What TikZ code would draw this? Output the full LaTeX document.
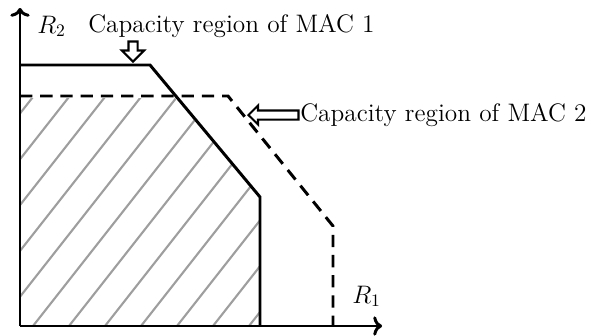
\documentclass[tikz,border=0pt]{standalone}
\usetikzlibrary{arrows.meta}
\usetikzlibrary{shapes.arrows}

\begin{document}
\begin{tikzpicture}[x=0.02cm,y=-0.02cm,
  thick line/.style={line width=1.7pt},
  axis/.style={line width=1.7pt, -{To[length=5pt,width=11pt]}},
  hatch/.style={line width=1.2pt, black!38},
  callout/.style={single arrow, draw, fill=white, line width=1.2pt, inner sep=0.07cm},
  label text/.style={font=\Large, inner sep=0pt, anchor=base west}]
\useasboundingbox (0,0) rectangle (595,335);

\coordinate (o) at (20,326);

\begin{scope}
\clip (20,326) -- (20,98) -- (175,98) -- (259,197) -- (259,326) -- cycle;
\foreach \k in {-8,...,7}
  \draw[hatch] (33+36*\k,326) -- ++(220,-280);
\end{scope}

\draw[axis] (o) -- (20,8) coordinate (ytip);
\draw[axis] (o) -- (382,326) coordinate (xtip);

\draw[thick line] (20,65) -- (150,65) -- (260,197) -- (260,326);
\draw[thick line,dash pattern=on 7pt off 4.5pt] (20,96) -- (228,96) -- (333,226) -- (333,326);

\node[label text] (r2) at (37,33) {$R_2$};
\node[label text] (r1) at (352,303) {$R_1$};
\node[label text] (mac1) at (88,32) {Capacity region of MAC 1};
\node[label text] (mac2) at (300,121) {Capacity region of MAC 2};

\coordinate (c1) at (133,63);
\coordinate (c2) at (247,115);
\node[callout, rotate=-90, anchor=tip, minimum height=0.4cm,
  single arrow head extend=0.13cm] (a1) at (c1) {};
\node[callout, rotate=180, anchor=tip, minimum height=1cm,
  single arrow head extend=0.1cm] (a2) at (c2) {};

\end{tikzpicture}
\end{document}
